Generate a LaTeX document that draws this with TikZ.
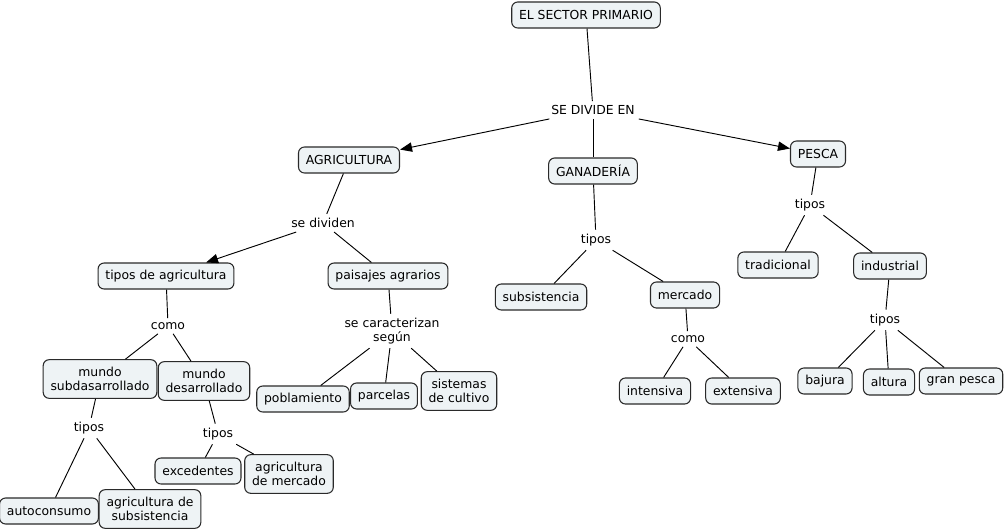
\documentclass[tikz,border=0pt]{standalone}
\usepackage{fontspec}
\setmainfont{DejaVu Sans}
\usetikzlibrary{arrows.meta}
\definecolor{boxfill}{HTML}{EEF3F5}
\definecolor{boxline}{HTML}{2A2A2A}
\tikzset{
  concept/.style={draw=boxline, line width=0.8pt, fill=boxfill, rounded corners=4.5pt,
    inner xsep=5.5pt, inner ysep=5pt, minimum height=19.5pt, align=center,
    font=\fontsize{9.3}{10.3}\selectfont},
  twoline/.style={minimum height=29pt},
  lbl/.style={inner sep=3pt, align=center, font=\fontsize{9.3}{10.3}\selectfont},
  link/.style={draw=black, line width=0.7pt},
  arr/.style={link, -{Triangle[length=9pt,width=7pt]}}
}
\begin{document}
\begin{tikzpicture}[x=0.75pt,y=-0.75pt]
\useasboundingbox[fill=white] (0,0) rectangle (1005,531);
% concepts
\node[concept] (root) at (586,15) {EL SECTOR PRIMARIO};
\node[lbl] (sde) at (593,110) {SE DIVIDE EN};
\node[concept] (agri) at (349,160) {AGRICULTURA};
\node[concept] (gana) at (593,171) {GANADERÍA};
\node[concept] (pesca) at (818,154) {PESCA};
% agricultura
\node[lbl] (sediv) at (323,223) {se dividen};
\node[concept] (tipagri) at (166,276) {tipos de agricultura};
\node[concept] (paisajes) at (388,276) {paisajes agrarios};
\node[lbl] (como1) at (168,326) {como};
\node[concept, twoline] (subd) at (100,379) {mundo\\subdasarrollado};
\node[concept, twoline] (desa) at (204,381) {mundo\\desarrollado};
\node[lbl] (tipos1) at (89,428) {tipos};
\node[lbl] (tipos2) at (218,434) {tipos};
\node[concept] (autoc) at (49,511) {autoconsumo};
\node[concept, twoline] (agsub) at (150,509) {agricultura de\\subsistencia};
\node[concept] (exced) at (198,471) {excedentes};
\node[concept, twoline] (agmer) at (289,474) {agricultura\\de mercado};
\node[lbl] (secar) at (392,331) {se caracterizan\\según};
\node[concept] (pobl) at (303,399) {poblamiento};
\node[concept] (parc) at (384,396) {parcelas};
\node[concept, twoline] (sist) at (459,391) {sistemas\\de cultivo};
% ganaderia
\node[lbl] (tipos3) at (596,240) {tipos};
\node[concept] (gsub) at (541,297) {subsistencia};
\node[concept] (gmer) at (685,295) {mercado};
\node[lbl] (como2) at (688,339) {como};
\node[concept] (inten) at (655,391) {intensiva};
\node[concept] (exten) at (743,391) {extensiva};
% pesca
\node[lbl] (tipos4) at (810,205) {tipos};
\node[concept] (trad) at (778,265) {tradicional};
\node[concept] (indu) at (890,266) {industrial};
\node[lbl] (tipos5) at (885,320) {tipos};
\node[concept] (bajura) at (825,381) {bajura};
\node[concept] (altura) at (889,382) {altura};
\node[concept] (gran) at (961,381) {gran pesca};
% links
\draw[link] (root) -- (sde);
\draw[arr] (sde) -- (agri);
\draw[link] (sde) -- (gana);
\draw[arr] (sde) -- (pesca);
\draw[link] (agri) -- (sediv);
\draw[arr] (sediv) -- (tipagri);
\draw[link] (sediv) -- (paisajes);
\draw[link] (tipagri) -- (como1);
\draw[link] (como1) -- (subd);
\draw[link] (como1) -- (desa);
\draw[link] (subd) -- (tipos1);
\draw[link] (tipos1) -- (autoc);
\draw[link] (tipos1) -- (agsub);
\draw[link] (desa) -- (tipos2);
\draw[link] (tipos2) -- (exced);
\draw[link] (tipos2) -- (agmer);
\draw[link] (paisajes) -- (secar);
\draw[link] (secar) -- (pobl);
\draw[link] (secar) -- (parc);
\draw[link] (secar) -- (sist);
\draw[link] (gana) -- (tipos3);
\draw[link] (tipos3) -- (gsub);
\draw[link] (tipos3) -- (gmer);
\draw[link] (gmer) -- (como2);
\draw[link] (como2) -- (inten);
\draw[link] (como2) -- (exten);
\draw[link] (pesca) -- (tipos4);
\draw[link] (tipos4) -- (trad);
\draw[link] (tipos4) -- (indu);
\draw[link] (indu) -- (tipos5);
\draw[link] (tipos5) -- (bajura);
\draw[link] (tipos5) -- (altura);
\draw[link] (tipos5) -- (gran);
\end{tikzpicture}
\end{document}
